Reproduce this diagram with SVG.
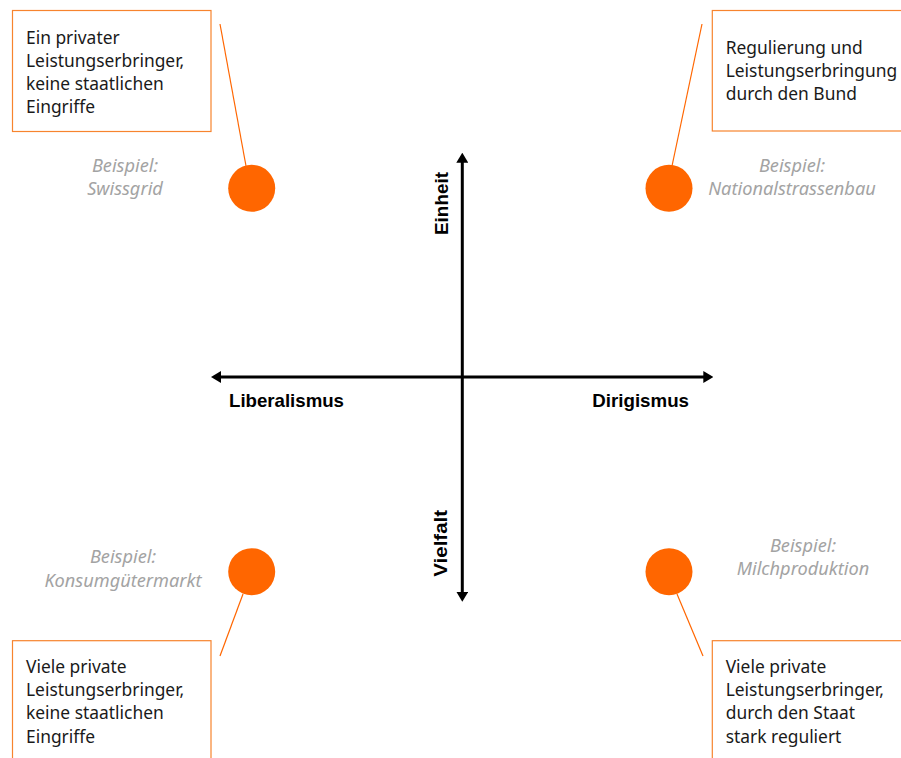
<svg xmlns="http://www.w3.org/2000/svg" width="901" height="758" viewBox="0 0 901 758">
<style>
.box{fill:#fff;stroke:#F7842E;stroke-width:1.2}
.dot{fill:#FF6600}
.lead{stroke:#FF6600;stroke-width:1.2;fill:none}
.axis{stroke:#000;stroke-width:3;fill:none}
.t{font-family:"Noto Sans","Open Sans","Liberation Sans",sans-serif;font-size:17.4px;fill:#1a1a1a}
.ex{font-family:"Noto Sans","Open Sans","Liberation Sans",sans-serif;font-size:18.2px;font-style:italic;fill:#a3a3a3;text-anchor:middle}
.ax{font-family:"Liberation Sans",Arial,sans-serif;font-size:18.5px;font-weight:bold;fill:#000}
</style>
<defs>
<marker id="arr" viewBox="0 -6 10 12" markerWidth="10" markerHeight="12" refX="2" refY="0" orient="auto" markerUnits="userSpaceOnUse">
<path d="M0,-6 L10,0 L0,6 z" fill="#000"/>
</marker>
</defs>
<rect width="901" height="758" fill="#fff"/>
<g id="connectors">
<line class="lead" x1="220" y1="24" x2="246" y2="166"/>
<line class="lead" x1="702" y1="24" x2="672" y2="166"/>
<line class="lead" x1="243" y1="594" x2="220" y2="656"/>
<line class="lead" x1="677" y1="594" x2="703" y2="656"/>
<line class="axis" x1="462.3" y1="377" x2="462.3" y2="160.7" marker-end="url(#arr)"/>
<line class="axis" x1="462.3" y1="377" x2="462.3" y2="593.7" marker-end="url(#arr)"/>
<line class="axis" x1="462.3" y1="377" x2="219" y2="377" marker-end="url(#arr)"/>
<line class="axis" x1="462.3" y1="377" x2="705.3" y2="377" marker-end="url(#arr)"/>
</g>
<g id="axis-labels">
<text class="ax" x="229" y="406.5" textLength="115" lengthAdjust="spacingAndGlyphs">Liberalismus</text>
<text class="ax" x="592.3" y="406.5" textLength="96.7" lengthAdjust="spacingAndGlyphs">Dirigismus</text>
<text class="ax" transform="translate(448,235) rotate(-90)" x="0" y="0" textLength="63" lengthAdjust="spacingAndGlyphs">Einheit</text>
<text class="ax" transform="translate(447,576.7) rotate(-90)" x="0" y="0" textLength="66.7" lengthAdjust="spacingAndGlyphs">Vielfalt</text>
</g>
<g id="node-top-left">
<rect class="box" x="12.5" y="10.5" width="198.5" height="121"/>
<text class="t" x="26" y="43.5">Ein privater</text>
<text class="t" x="26" y="66.7">Leistungserbringer,</text>
<text class="t" x="26" y="90">keine staatlichen</text>
<text class="t" x="26" y="113.2">Eingriffe</text>
<circle class="dot" cx="251.7" cy="188.3" r="23.5"/>
<text class="ex" x="125" y="172">Beispiel:</text>
<text class="ex" x="125" y="195">Swissgrid</text>
</g>
<g id="node-top-right">
<rect class="box" x="712.3" y="10.5" width="210" height="120.5"/>
<text class="t" x="725.7" y="53.5">Regulierung und</text>
<text class="t" x="725.7" y="76.8">Leistungserbringung</text>
<text class="t" x="725.7" y="100.2">durch den Bund</text>
<circle class="dot" cx="669" cy="188.3" r="23.5"/>
<text class="ex" x="792" y="172">Beispiel:</text>
<text class="ex" x="792" y="195">Nationalstrassenbau</text>
</g>
<g id="node-bottom-left">
<rect class="box" x="12.5" y="640.7" width="198.5" height="140"/>
<text class="t" x="26" y="672.7">Viele private</text>
<text class="t" x="26" y="695.9">Leistungserbringer,</text>
<text class="t" x="26" y="719.2">keine staatlichen</text>
<text class="t" x="26" y="742.5">Eingriffe</text>
<circle class="dot" cx="251.7" cy="571.7" r="23.5"/>
<text class="ex" x="123" y="562.7">Beispiel:</text>
<text class="ex" x="123" y="586.7">Konsumgütermarkt</text>
</g>
<g id="node-bottom-right">
<rect class="box" x="712.3" y="640.7" width="210" height="140"/>
<text class="t" x="725.7" y="672.7">Viele private</text>
<text class="t" x="725.7" y="695.9">Leistungserbringer,</text>
<text class="t" x="725.7" y="719.2">durch den Staat</text>
<text class="t" x="725.7" y="742.5">stark reguliert</text>
<circle class="dot" cx="669" cy="571.7" r="23.5"/>
<text class="ex" x="803" y="551.7">Beispiel:</text>
<text class="ex" x="803" y="574.5">Milchproduktion</text>
</g>
</svg>
